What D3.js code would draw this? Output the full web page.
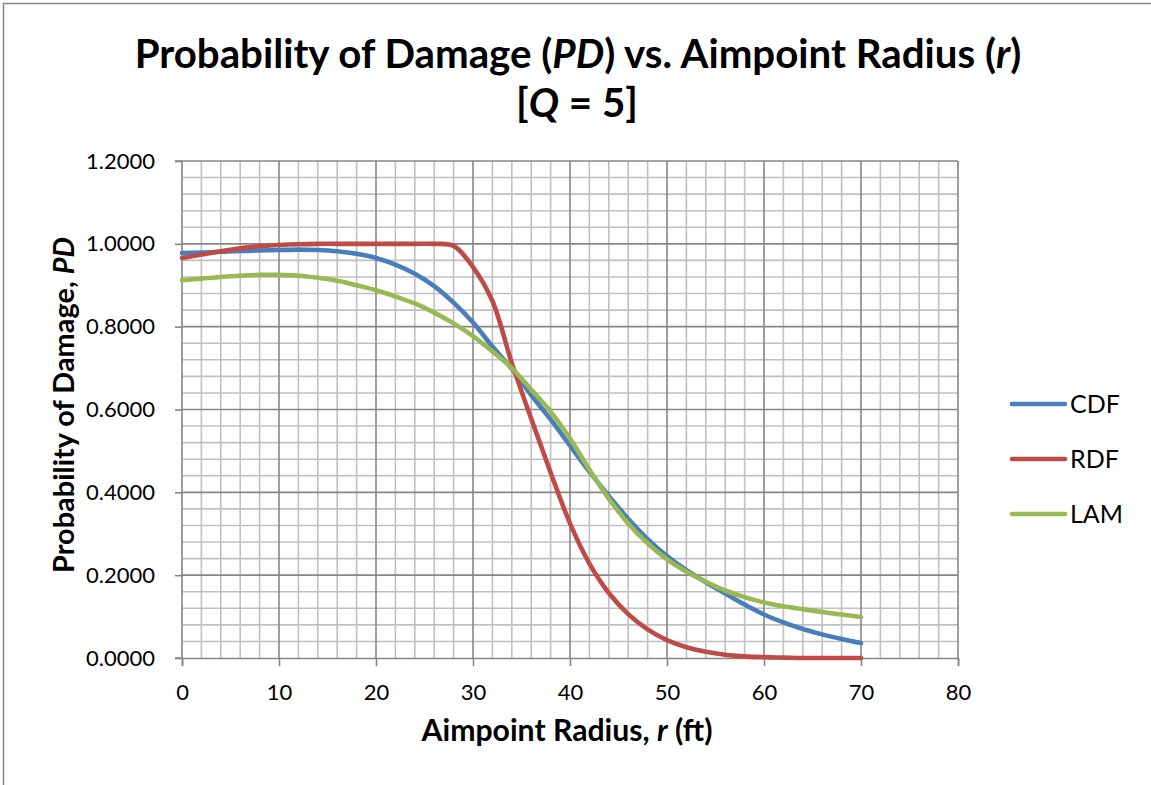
<!DOCTYPE html>
<html><head><meta charset="utf-8">
<script src="https://cdn.jsdelivr.net/npm/d3@7"></script>
<style>body{margin:0;background:#fff} svg{display:block} text{font-family:Lato,"Open Sans",sans-serif;fill:#000}</style>
</head><body><svg id="c" width="1151" height="785"></svg>
<script>
const radius = [0,2,4,6,8,10,12,14,16,18,20,22,24,26,28,30,32,34,36,38,40,42,44,46,48,50,52,54,56,58,60,62,64,66,68,70];
const cdf = [0.978,0.979,0.981,0.983,0.984,0.985,0.986,0.985,0.982,0.976,0.966,0.950,0.928,0.898,0.858,0.810,0.752,0.698,0.635,0.576,0.513,0.450,0.391,0.336,0.287,0.246,0.212,0.183,0.156,0.129,0.105,0.086,0.070,0.057,0.046,0.036];
const rdf = [0.966,0.974,0.982,0.989,0.994,0.997,0.999,1.000,1.000,1.000,1.000,1.000,1.000,1.000,0.995,0.944,0.862,0.712,0.578,0.448,0.325,0.228,0.157,0.106,0.069,0.043,0.026,0.015,0.008,0.004,0.002,0.001,0.000,0.000,0.000,0.000];
const lam = [0.912,0.916,0.920,0.923,0.925,0.925,0.923,0.918,0.911,0.900,0.888,0.873,0.856,0.834,0.808,0.777,0.740,0.700,0.648,0.595,0.530,0.455,0.385,0.325,0.277,0.238,0.208,0.184,0.163,0.147,0.134,0.125,0.118,0.111,0.105,0.099];
const seriesNames = ["CDF","RDF","LAM"];
const seriesColors = ["#4A7EBB","#BE4B48","#98B954"];
const xTicks = [0,10,20,30,40,50,60,70,80];
const yTicks = [0,0.2,0.4,0.6,0.8,1.0,1.2];
const xMinor = d3.range(0,81,2);
const yMinor = d3.range(0,1.2001,0.04);

const svg = d3.select("#c");
const x = d3.scaleLinear([0,80],[182,958]);
const y = d3.scaleLinear([0,1.2],[658,161]);

// outer chart border
svg.append("path").attr("d","M3.5,790V3.5H1160").attr("fill","none").attr("stroke","#868686").attr("stroke-width",1.5);

function fit(sel, target){
  const w = sel.node().getComputedTextLength();
  const fs = parseFloat(sel.attr("font-size"));
  sel.attr("font-size", fs*target/w);
  return fs*target/w;
}

// title
const t1 = svg.append("text").attr("x",578).attr("y",68).attr("text-anchor","middle").attr("font-weight","bold").attr("font-size",32);
t1.append("tspan").text("Probability of Damage (");
t1.append("tspan").attr("font-style","italic").text("PD");
t1.append("tspan").text(") vs. Aimpoint Radius (");
t1.append("tspan").attr("font-style","italic").text("r");
t1.append("tspan").text(")");
const titleSize = fit(t1, 887);
const t2 = svg.append("text").attr("x",577).attr("y",117).attr("text-anchor","middle").attr("font-weight","bold").attr("font-size",titleSize);
t2.append("tspan").text("[");
t2.append("tspan").attr("font-style","italic").text("Q");
t2.append("tspan").text(" = 5]");

// minor grid
const g = svg.append("g");
g.selectAll(".mx").data(xMinor.filter(v=>v%10!==0)).join("line")
  .attr("x1",d=>x(d)).attr("x2",d=>x(d)).attr("y1",y(0)).attr("y2",y(1.2))
  .attr("stroke","#c0c0c0").attr("stroke-width",1.6);
g.selectAll(".my").data(yMinor.filter(v=>Math.abs(v/0.2-Math.round(v/0.2))>1e-6)).join("line")
  .attr("y1",d=>y(d)).attr("y2",d=>y(d)).attr("x1",x(0)).attr("x2",x(80))
  .attr("stroke","#c0c0c0").attr("stroke-width",1.6);
// major grid
g.selectAll(".Mx").data(xTicks.slice(1)).join("line")
  .attr("x1",d=>x(d)).attr("x2",d=>x(d)).attr("y1",y(0)).attr("y2",y(1.2))
  .attr("stroke","#868686").attr("stroke-width",1.6);
g.selectAll(".My").data(yTicks.slice(1)).join("line")
  .attr("y1",d=>y(d)).attr("y2",d=>y(d)).attr("x1",x(0)).attr("x2",x(80))
  .attr("stroke","#868686").attr("stroke-width",1.6);

// axes
const xAxis = svg.append("g").attr("transform",`translate(0,${y(0)})`)
  .call(d3.axisBottom(x).tickValues(xTicks).tickSize(8).tickPadding(18).tickFormat(d3.format("d")));
const yAxis = svg.append("g").attr("transform",`translate(${x(0)},0)`)
  .call(d3.axisLeft(y).tickValues(yTicks).tickSize(7).tickPadding(20).tickFormat(d3.format(".4f")));
[xAxis,yAxis].forEach(a=>{
  a.select(".domain").attr("stroke","#868686").attr("stroke-width",1.6);
  a.selectAll(".tick line").attr("stroke","#868686").attr("stroke-width",1.6);
  a.selectAll("text").attr("font-size",22).attr("font-family","Lato").attr("fill","#000");
});
yAxis.select(".domain").attr("d",`M-7,${y(1.2)}H0V${y(0)}H-7`);

// series
const line = d3.line().x(d=>x(d[0])).y(d=>y(d[1])).curve(d3.curveCatmullRom.alpha(0.5));
const allSeries = [cdf, rdf, lam];
allSeries.forEach((vals,i)=>{
  svg.append("path").datum(radius.map((r,j)=>[r,vals[j]]))
    .attr("d",line).attr("fill","none").attr("stroke",seriesColors[i])
    .attr("stroke-width",4.6).attr("stroke-linecap","round").attr("stroke-linejoin","round");
});

// axis titles
const xt = svg.append("text").attr("x",567).attr("y",741).attr("text-anchor","middle").attr("font-weight","bold").attr("font-size",23);
xt.append("tspan").text("Aimpoint Radius, ");
xt.append("tspan").attr("font-style","italic").text("r");
xt.append("tspan").text(" (ft)");
fit(xt, 291);
const yt = svg.append("text").attr("transform","translate(74,405) rotate(-90)").attr("text-anchor","middle").attr("font-weight","bold").attr("font-size",23);
yt.append("tspan").text("Probability of Damage, ");
yt.append("tspan").attr("font-style","italic").text("PD");
fit(yt, 336);

// legend
const lg = svg.append("g");
seriesNames.forEach((n,i)=>{
  const yy = 404 + i*55;
  lg.append("line").attr("x1",1012).attr("x2",1065).attr("y1",yy).attr("y2",yy)
    .attr("stroke",seriesColors[i]).attr("stroke-width",4.6).attr("stroke-linecap","round");
  lg.append("text").attr("x",1070).attr("y",yy).attr("dy","0.36em").attr("font-size",25).text(n);
});
</script></body></html>
